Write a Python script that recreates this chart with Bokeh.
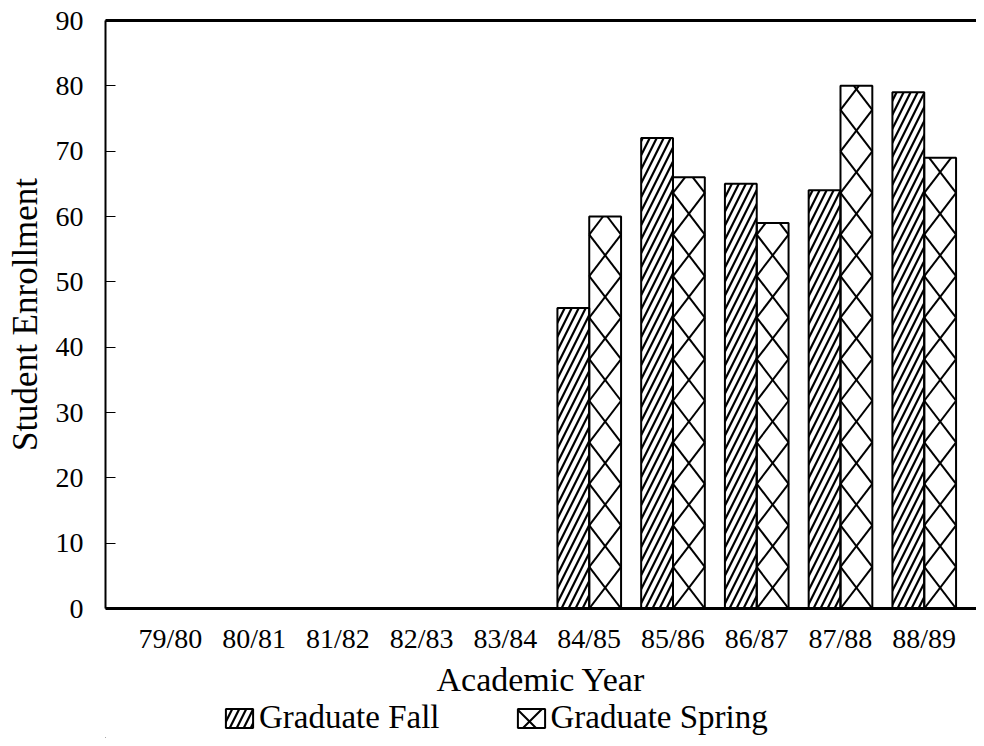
import numpy as np
from bokeh.plotting import figure
from bokeh.layouts import column
from bokeh.models import ColumnDataSource, FixedTicker, LinearAxis, Legend, LegendItem
from bokeh.embed import file_html
from bokeh.resources import INLINE

# ---- data ----
years = ["79/80", "80/81", "81/82", "82/83", "83/84",
         "84/85", "85/86", "86/87", "87/88", "88/89"]
grad_fall = [None, None, None, None, None, 46, 72, 65, 64, 79]
grad_spring = [None, None, None, None, None, 60, 66, 59, 80, 69]
y_ticks = [0, 10, 20, 30, 40, 50, 60, 70, 80, 90]
series_labels = ["Graduate Fall", "Graduate Spring"]

# ---- style ----
FONT = "Liberation Serif"
BAR_W = 0.38
CELL = 6.36  # vertical size of one X cell of the spring pattern (data units)
FALL_HATCH = dict(hatch_pattern="/", hatch_scale=14, hatch_weight=2.2,
                  hatch_color="black")

xpos = np.arange(len(years))

p = figure(width=976, height=700, x_range=(-0.776, 9.624), y_range=(0, 90),
           output_backend="svg", toolbar_location=None,
           min_border_left=105, min_border_right=0, min_border_top=20,
           min_border_bottom=90)
p.outline_line_color = None
p.xgrid.grid_line_color = None
p.ygrid.grid_line_color = None

# fall bars (diagonal hatch)
fall_src = ColumnDataSource(dict(x=xpos - BAR_W / 2,
                                 top=np.array(grad_fall, dtype=float)))
p.vbar(x="x", top="top", width=BAR_W, source=fall_src,
       fill_color="white", line_color="black", line_width=2, **FALL_HATCH)

# spring bars (large X pattern computed from bar geometry)
xs, ys = [], []
for xi, h in zip(xpos, grad_spring):
    if h is None:
        continue
    x0, x1 = xi, xi + BAR_W
    k = 0
    while k * CELL < h:
        y0 = k * CELL
        y1 = (k + 1) * CELL
        for xa, xb in ((x0, x1), (x1, x0)):
            if y1 > h:
                xe = xa + (xb - xa) * (h - y0) / CELL
                ye = h
            else:
                xe, ye = xb, y1
            xs.append([float(xa), float(xe)])
            ys.append([float(y0), float(ye)])
        k += 1
p.multi_line(xs, ys, line_color="black", line_width=2)

spring_src = ColumnDataSource(dict(x=xpos + BAR_W / 2,
                                   top=np.array(grad_spring, dtype=float)))
p.vbar(x="x", top="top", width=BAR_W, source=spring_src,
       fill_color=None, line_color="black", line_width=2)

# axes
p.yaxis.ticker = FixedTicker(ticks=y_ticks)
p.yaxis.axis_label = "Student Enrollment"
p.yaxis.axis_line_width = 2
p.yaxis.major_tick_in = 10
p.yaxis.major_tick_out = 0
p.yaxis.minor_tick_line_color = None
p.yaxis.major_label_standoff = 22
p.yaxis.axis_label_standoff = 8

p.xaxis.ticker = FixedTicker(ticks=[int(v) for v in xpos])
p.xaxis.major_label_overrides = {int(i): y for i, y in zip(xpos, years)}
p.xaxis.axis_label = "Academic Year"
p.xaxis.axis_line_width = 3
p.xaxis.major_tick_in = 0
p.xaxis.major_tick_out = 0
p.xaxis.minor_tick_line_color = None
p.xaxis.major_label_standoff = 14
p.xaxis.axis_label_standoff = 4

for ax in (p.xaxis[0], p.yaxis[0]):
    ax.major_label_text_font = FONT
    ax.major_label_text_font_size = "28px"
    ax.major_label_text_color = "black"
    ax.axis_label_text_font = FONT
    ax.axis_label_text_font_size = "34px"
    ax.axis_label_text_font_style = "normal"
    ax.axis_label_text_color = "black"
    ax.axis_line_color = "black"
    ax.major_tick_line_color = "black"
p.yaxis.axis_label_text_font_size = "35px"

top_axis = LinearAxis(ticker=FixedTicker(ticks=[]), axis_line_width=3,
                      axis_line_color="black", major_tick_out=0,
                      major_tick_in=0, minor_tick_out=0, minor_tick_in=0,
                      major_label_text_font_size="0px")
p.add_layout(top_axis, "above")

# ---- legend strip below the chart ----
lp = figure(width=976, height=38, x_range=(1, 2), y_range=(1, 2),
            output_backend="svg", toolbar_location=None, min_border=0)
lp.axis.visible = False
lp.xgrid.grid_line_color = None
lp.ygrid.grid_line_color = None
lp.outline_line_color = None

# off-range proxy bars: only their legend swatches are seen
r_fall_proxy = lp.vbar(x="x", top="top", width=0.1,
                       source=ColumnDataSource(dict(x=[-5], top=[-5])),
                       fill_color="white", line_color="black", line_width=2,
                       **FALL_HATCH)
r_spring_proxy = lp.vbar(x="x", top="top", width=0.1,
                         source=ColumnDataSource(dict(x=[-5], top=[-5])),
                         fill_color="white", line_color="black", line_width=2,
                         hatch_pattern="x", hatch_scale=30, hatch_weight=2,
                         hatch_color="black")

legend = Legend(items=[LegendItem(label=series_labels[0], renderers=[r_fall_proxy]),
                       LegendItem(label=series_labels[1], renderers=[r_spring_proxy])],
                orientation="horizontal", location=(117, 2),
                label_text_font=FONT, label_text_font_size="33px",
                label_text_color="black", label_height=30,
                glyph_width=34, glyph_height=24, label_standoff=3,
                spacing=74, padding=0, margin=0,
                border_line_color=None, background_fill_alpha=0)
lp.add_layout(legend)

open("out.html", "w").write(file_html(column(p, lp, spacing=0), INLINE))
